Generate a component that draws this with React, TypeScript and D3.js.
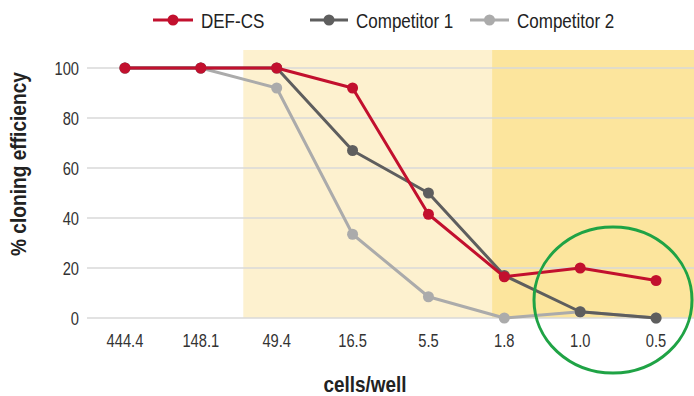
import React from "react";
import * as d3 from "d3";

const categories = ["444.4", "148.1", "49.4", "16.5", "5.5", "1.8", "1.0", "0.5"];
const defCs = [100, 100, 100, 92, 41.5, 16.5, 20, 15];
const competitor1 = [100, 100, 100, 67, 50, 17, 2.5, 0];
const competitor2 = [100, 100, 92, 33.5, 8.5, 0, 2.5, 0];
const yTicks = [0, 20, 40, 60, 80, 100];
const seriesNames = ["DEF-CS", "Competitor 1", "Competitor 2"];

// shaded ranges in category-index units
const lightBand = [1.56, 7.5];
const darkBand = [4.84, 7.5];

const W = 694;
const H = 396;
const FONT = "'Liberation Sans', Arial, sans-serif";

// Text squeezed horizontally to get a condensed face
function NarrowText(props: {
  x: number;
  y: number;
  squeeze?: number;
  rotate?: number;
  anchor?: "start" | "middle" | "end";
  size: number;
  bold?: boolean;
  fill?: string;
  children: React.ReactNode;
}) {
  const { x, y, squeeze = 0.86, rotate = 0, anchor = "start", size, bold, fill = "#2a2a2a", children } = props;
  return (
    <text
      transform={`translate(${x},${y}) rotate(${rotate}) scale(${squeeze},1)`}
      textAnchor={anchor}
      fontFamily={FONT}
      fontSize={size}
      fontWeight={bold ? "bold" : "normal"}
      fill={fill}
    >
      {children}
    </text>
  );
}

export default function App() {
  const x = d3.scalePoint<string>().domain(categories).range([87, 694]).padding(0.5);
  const step = x.step();
  const xi = (i: number) => (x(categories[0]) as number) + i * step;
  const y = d3.scaleLinear().domain([0, 100]).range([318, 68]);
  const bandTop = 50;

  const line = d3
    .line<number>()
    .x((_, i) => x(categories[i]) as number)
    .y((d) => y(d));

  const series = [
    { name: seriesNames[2], data: competitor2, color: "#ABABAB" },
    { name: seriesNames[1], data: competitor1, color: "#5E5E5E" },
    { name: seriesNames[0], data: defCs, color: "#C2102E" },
  ];

  const legend = [
    { name: seriesNames[0], color: "#C2102E", x1: 153, x2: 193, tx: 201 },
    { name: seriesNames[1], color: "#5E5E5E", x1: 310, x2: 348, tx: 356 },
    { name: seriesNames[2], color: "#ABABAB", x1: 470, x2: 509, tx: 517 },
  ];

  return (
    <svg width={W} height={H} style={{ position: "absolute", left: 0, top: 0, background: "#fff" }}>
      <rect x={xi(lightBand[0])} y={bandTop} width={Math.min(W, xi(lightBand[1])) - xi(lightBand[0])} height={y(0) - bandTop} fill="#FDF1CF" />
      <rect x={xi(darkBand[0])} y={bandTop} width={Math.min(W, xi(darkBand[1])) - xi(darkBand[0])} height={y(0) - bandTop} fill="#FCE59D" />
      {yTicks.map((t) => (
        <g key={t}>
          <line x1={87} x2={W} y1={y(t)} y2={y(t)} stroke="#D9D9D9" strokeWidth={1.5} />
          <NarrowText x={79} y={y(t) + 7} anchor="end" size={17.5} squeeze={0.84} fill="#333">
            {t}
          </NarrowText>
        </g>
      ))}
      {categories.map((c) => (
        <NarrowText key={c} x={x(c) as number} y={347} anchor="middle" size={17.5} squeeze={0.84} fill="#333">
          {c}
        </NarrowText>
      ))}
      {series.map((s) => (
        <g key={s.name}>
          <path d={line(s.data) || ""} fill="none" stroke={s.color} strokeWidth={3} strokeLinejoin="round" />
          {s.data.map((v, i) => (
            <circle key={i} cx={x(categories[i])} cy={y(v)} r={5.5} fill={s.color} />
          ))}
        </g>
      ))}
      {legend.map((l) => (
        <g key={l.name}>
          <line x1={l.x1} x2={l.x2} y1={20} y2={20} stroke={l.color} strokeWidth={3} />
          <circle cx={(l.x1 + l.x2) / 2} cy={20} r={5.5} fill={l.color} />
          <NarrowText x={l.tx} y={28} size={21} squeeze={0.81} fill="#222">
            {l.name}
          </NarrowText>
        </g>
      ))}
      <NarrowText x={26} y={164} rotate={-90} anchor="middle" size={22} bold squeeze={0.87} fill="#222">
        % cloning efficiency
      </NarrowText>
      <NarrowText x={365} y={392} anchor="middle" size={22} bold squeeze={0.86} fill="#222">
        cells/well
      </NarrowText>
      <ellipse cx={613} cy={300} rx={79} ry={73} fill="none" stroke="#1FA345" strokeWidth={3} />
    </svg>
  );
}
